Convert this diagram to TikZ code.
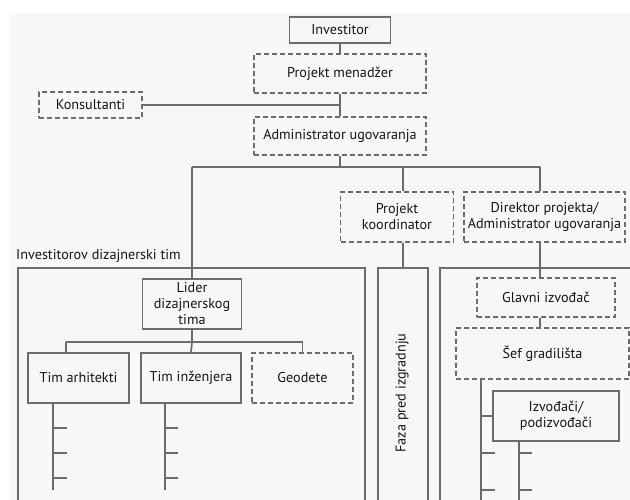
\documentclass[tikz,border=0pt]{standalone}
\usepackage{fontspec}
\setmainfont{PT Sans}
\definecolor{bg}{HTML}{F7F7F7}
\definecolor{ln}{HTML}{6C6C6C}
\definecolor{tx}{HTML}{151515}
\begin{document}
\begin{tikzpicture}[x=1pt,y=-1pt,
  every node/.style={font=\fontsize{14.2}{16}\selectfont, text=tx, inner sep=0pt, align=center},
  solidbox/.style={draw=ln, line width=1.7pt, fill=bg},
  dashbox/.style={draw=ln, line width=1.7pt, dash pattern=on 5pt off 3pt, fill=bg},
  conn/.style={draw=ln, line width=1.7pt},
  frame/.style={draw=ln, line width=1.7pt}]
\useasboundingbox (0,0) rectangle (630,500);
\clip (0,0) rectangle (630,500);
\fill[bg] (10,13) rectangle (640,510);

% frames
\node[frame, minimum width=347pt, minimum height=250pt, anchor=north west] (leftframe) at (17,267) {};
\node[frame, minimum width=50pt, minimum height=250pt, anchor=north west] (faza) at (377,267) {};
\node[frame, minimum width=210pt, minimum height=250pt, anchor=north west] (rightframe) at (439,267) {};
\node[rotate=90] (fazatext) at (402,393) {Faza pred izgradnju};
\node[anchor=south west] (teamlabel) at (16,263) {Investitorov dizajnerski tim};

% top chain
\node[solidbox, minimum width=101pt, minimum height=26pt] (inv) at (340,30) {Investitor};
\node[dashbox, minimum width=172pt, minimum height=39pt] (pm) at (340,73.5) {Projekt menadžer};
\node[dashbox, minimum width=103pt, minimum height=26pt] (kons) at (90.5,105) {Konsultanti};
\node[dashbox, minimum width=172pt, minimum height=38pt] (adm) at (340,136) {Administrator ugovaranja};

\node[dashbox, minimum width=113pt, minimum height=50pt] (koord) at (397,217) {Projekt\\koordinator};
\node[dashbox, minimum width=161pt, minimum height=50pt] (dir) at (544.5,217) {Direktor projekta/\\Administrator ugovaranja};

% design team
\node[solidbox, minimum width=99pt, minimum height=50pt] (lider) at (192,304) {Lider\\dizajnerskog\\tima};
\node[solidbox, minimum width=101pt, minimum height=50pt] (arh) at (78.5,378) {Tim arhitekti};
\node[solidbox, minimum width=100pt, minimum height=50pt] (inz) at (191,378) {Tim inženjera};
\node[dashbox, minimum width=101pt, minimum height=50pt] (geo) at (302.5,378) {Geodete};

% construction side
\node[dashbox, minimum width=138pt, minimum height=39pt] (glavni) at (546,297.5) {Glavni izvođač};
\node[dashbox, minimum width=173pt, minimum height=51pt] (sef) at (542.5,353.5) {Šef gradilišta};
\node[solidbox, minimum width=126pt, minimum height=50pt] (izv) at (556,416) {Izvođači/\\podizvođači};

% coordinates
\coordinate (hl) at (340,167);
\coordinate (hlL) at (192,167);
\coordinate (hlR) at (540,167);
\coordinate (dl) at (66,342);
\coordinate (dr) at (302.5,342);
\coordinate (ta) at (53,490);
\coordinate (ti) at (165,490);
\coordinate (sv) at (481,510);
\coordinate (iv) at (519,510);

% connectors
\draw[conn] (inv.south) -- (pm.north);
\draw[conn] (pm.south) -- (adm.north);
\draw[conn] (kons.east) -- (kons.east -| adm.north);
\draw[conn] (adm.south) -- (hl);
\draw[conn] (hlL) -- (hlR);
\draw[conn] (hlL) -- (lider.north);
\draw[conn] (faza.north |- hl) -- (faza.north |- koord.north);
\draw[conn] (faza.north |- koord.south) -- (faza.north);
\draw[conn] (hlR) -- (hlR |- dir.north);
\draw[conn] (hlR |- dir.south) -- (hlR |- glavni.north);
\draw[conn] (hlR |- glavni.south) -- (hlR |- sef.north);

\draw[conn] (lider.south) -- (lider.south |- dl);
\draw[conn] (dl) -- (dr);
\draw[conn] (dl) -- (dl |- arh.north);
\draw[conn] (lider.south |- dl) -- (inz.north);
\draw[conn] (dr) -- (geo.north);

% tick trees
\draw[conn] (arh.south -| ta) -- (ta);
\foreach \yy in {428,453,478} \draw[conn] (53,\yy) -- (67,\yy);
\draw[conn] (inz.south -| ti) -- (ti);
\foreach \yy in {428,453,478} \draw[conn] (165,\yy) -- (178,\yy);

\draw[conn] (sef.south -| sv) -- (sv);
\draw[conn] (481,416) -- (izv.west);
\foreach \yy in {453,490} \draw[conn] (481,\yy) -- (495,\yy);
\draw[conn] (izv.south -| iv) -- (iv);
\foreach \yy in {453,490} \draw[conn] (519,\yy) -- (532,\yy);
\end{tikzpicture}
\end{document}
